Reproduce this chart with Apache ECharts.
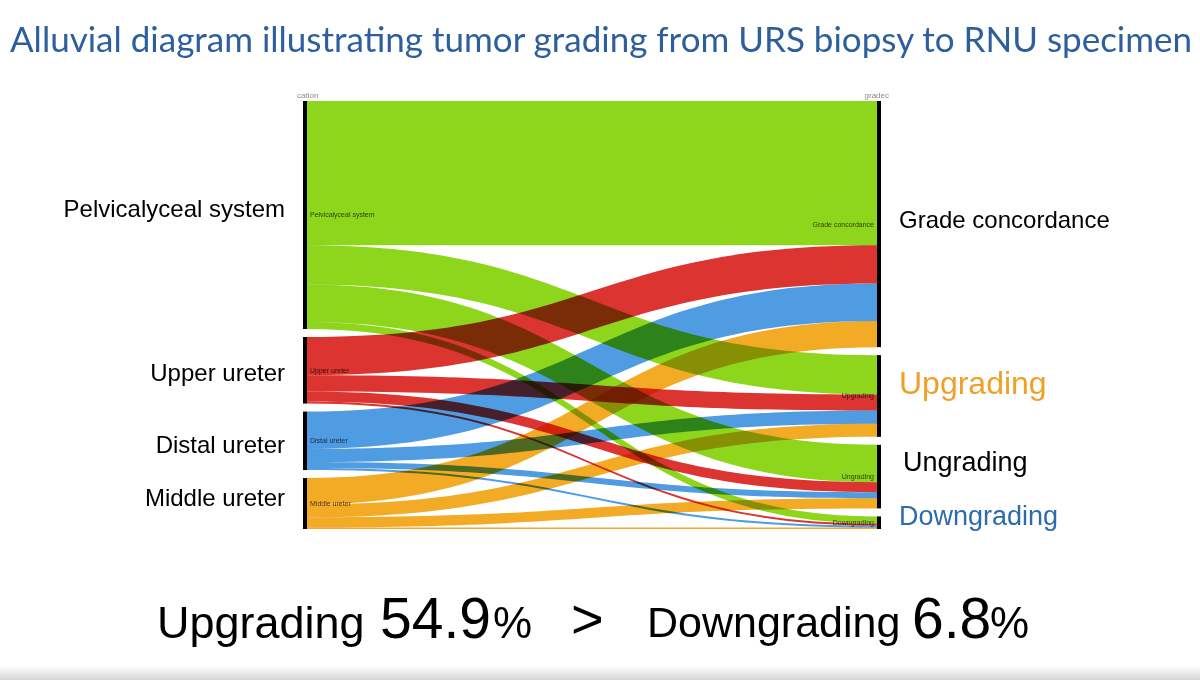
<!DOCTYPE html>
<html>
<head>
<meta charset="utf-8">
<script src="https://cdn.jsdelivr.net/npm/echarts@6/dist/echarts.min.js"></script>
<style>
  html, body { margin: 0; padding: 0; background: #ffffff; }
  #chart { width: 1200px; height: 680px; }
  #chart svg path { mix-blend-mode: multiply; }
</style>
</head>
<body>
<div id="chart"></div>
<script>
// ---- data ----
const titleText = 'Alluvial diagram illustrating tumor grading from URS biopsy to RNU specimen';
const sourceNodes = ['Pelvicalyceal system', 'Upper ureter', 'Distal ureter', 'Middle ureter'];
const targetNodes = ['Grade concordance', 'Upgrading', 'Ungrading', 'Downgrading'];
// flows from each source to [Grade concordance, Upgrading, Ungrading, Downgrading]
const pelvicalycealFlows = [143, 39, 37, 7];
const upperUreterFlows = [38, 16, 10, 2];
const distalUreterFlows = [37, 13, 6, 2];
const middleUreterFlows = [26, 13, 10, 1.5];
const flowsBySource = [pelvicalycealFlows, upperUreterFlows, distalUreterFlows, middleUreterFlows];
const sourceColors = ['#8ed61c', '#db3431', '#509ce3', '#f3aa25'];
const axisHeaders = ['cation', 'gradec'];
const upgradingPct = '54.9';
const downgradingPct = '6.8';

// ---- build sankey ----
const nodes = [];
sourceNodes.forEach(n => nodes.push({
  name: n, itemStyle: { color: '#000' },
  label: { position: 'right', distance: 3 }
}));
targetNodes.forEach(n => nodes.push({
  name: n, itemStyle: { color: '#000' },
  label: { position: 'left', distance: 3 }
}));
const links = [];
flowsBySource.forEach((arr, i) => {
  arr.forEach((v, j) => {
    links.push({ source: sourceNodes[i], target: targetNodes[j], value: v,
      lineStyle: { color: sourceColors[i], opacity: 1 } });
  });
});

const chart = echarts.init(document.getElementById('chart'), null, { renderer: 'svg' });

const FONT = '"Liberation Sans", Arial, sans-serif';
const bigLabel = (text, x, y, align, color, size) => ({
  type: 'text', x: x, y: y,
  style: { text: text, fill: color, font: size + 'px ' + FONT, textAlign: align, textVerticalAlign: 'middle' }
});

const option = {
  backgroundColor: '#ffffff',
  animation: false,
  series: [{
    type: 'sankey',
    left: 303, right: 319, top: 101, bottom: 151,
    nodeWidth: 4, nodeGap: 8,
    layoutIterations: 0,
    draggable: false,
    emphasis: { disabled: true },
    data: nodes,
    links: links,
    lineStyle: { curveness: 0.5, opacity: 1 },
    label: { fontSize: 7, fontFamily: FONT, color: 'rgba(0,0,0,0.72)' }
  }],
  graphic: [
    { type: 'text', x: 10, y: 38,
      style: { text: titleText, fill: '#2d5f9c', font: '35px Lato, "Open Sans", sans-serif', textAlign: 'left', textVerticalAlign: 'middle' } },
    { type: 'text', x: 297, y: 95,
      style: { text: axisHeaders[0], fill: '#8a8a8a', font: '8px ' + FONT, textAlign: 'left', textVerticalAlign: 'middle' } },
    { type: 'text', x: 889, y: 95,
      style: { text: axisHeaders[1], fill: '#8a8a8a', font: '8px ' + FONT, textAlign: 'right', textVerticalAlign: 'middle' } },
    bigLabel(sourceNodes[0], 285, 208, 'right', '#000', 24),
    bigLabel(sourceNodes[1], 285, 372, 'right', '#000', 24),
    bigLabel(sourceNodes[2], 285, 444, 'right', '#000', 24),
    bigLabel(sourceNodes[3], 285, 497, 'right', '#000', 24),
    bigLabel(targetNodes[0], 899, 219, 'left', '#000', 24),
    bigLabel(targetNodes[1], 899, 383, 'left', '#f0a027', 32),
    bigLabel(targetNodes[2], 903, 462, 'left', '#000', 27),
    bigLabel(targetNodes[3], 899, 516, 'left', '#2d6bad', 27),
    // bottom statement
    bigLabel('Upgrading', 157, 622, 'left', '#000', 45),
    bigLabel(upgradingPct, 380, 618, 'left', '#000', 57),
    bigLabel('%', 493, 622, 'left', '#000', 44),
    bigLabel('>', 571, 618, 'left', '#000', 56),
    bigLabel('Downgrading', 647, 622, 'left', '#000', 43),
    bigLabel(downgradingPct, 912, 618, 'left', '#000', 57),
    bigLabel('%', 990, 622, 'left', '#000', 44),
    { type: 'rect', shape: { x: 0, y: 666, width: 1200, height: 14 },
      style: { fill: new echarts.graphic.LinearGradient(0, 0, 0, 1, [
        { offset: 0, color: '#ffffff' }, { offset: 1, color: '#d6d6d6' }]) } }
  ]
};
chart.setOption(option);
</script>
</body>
</html>
